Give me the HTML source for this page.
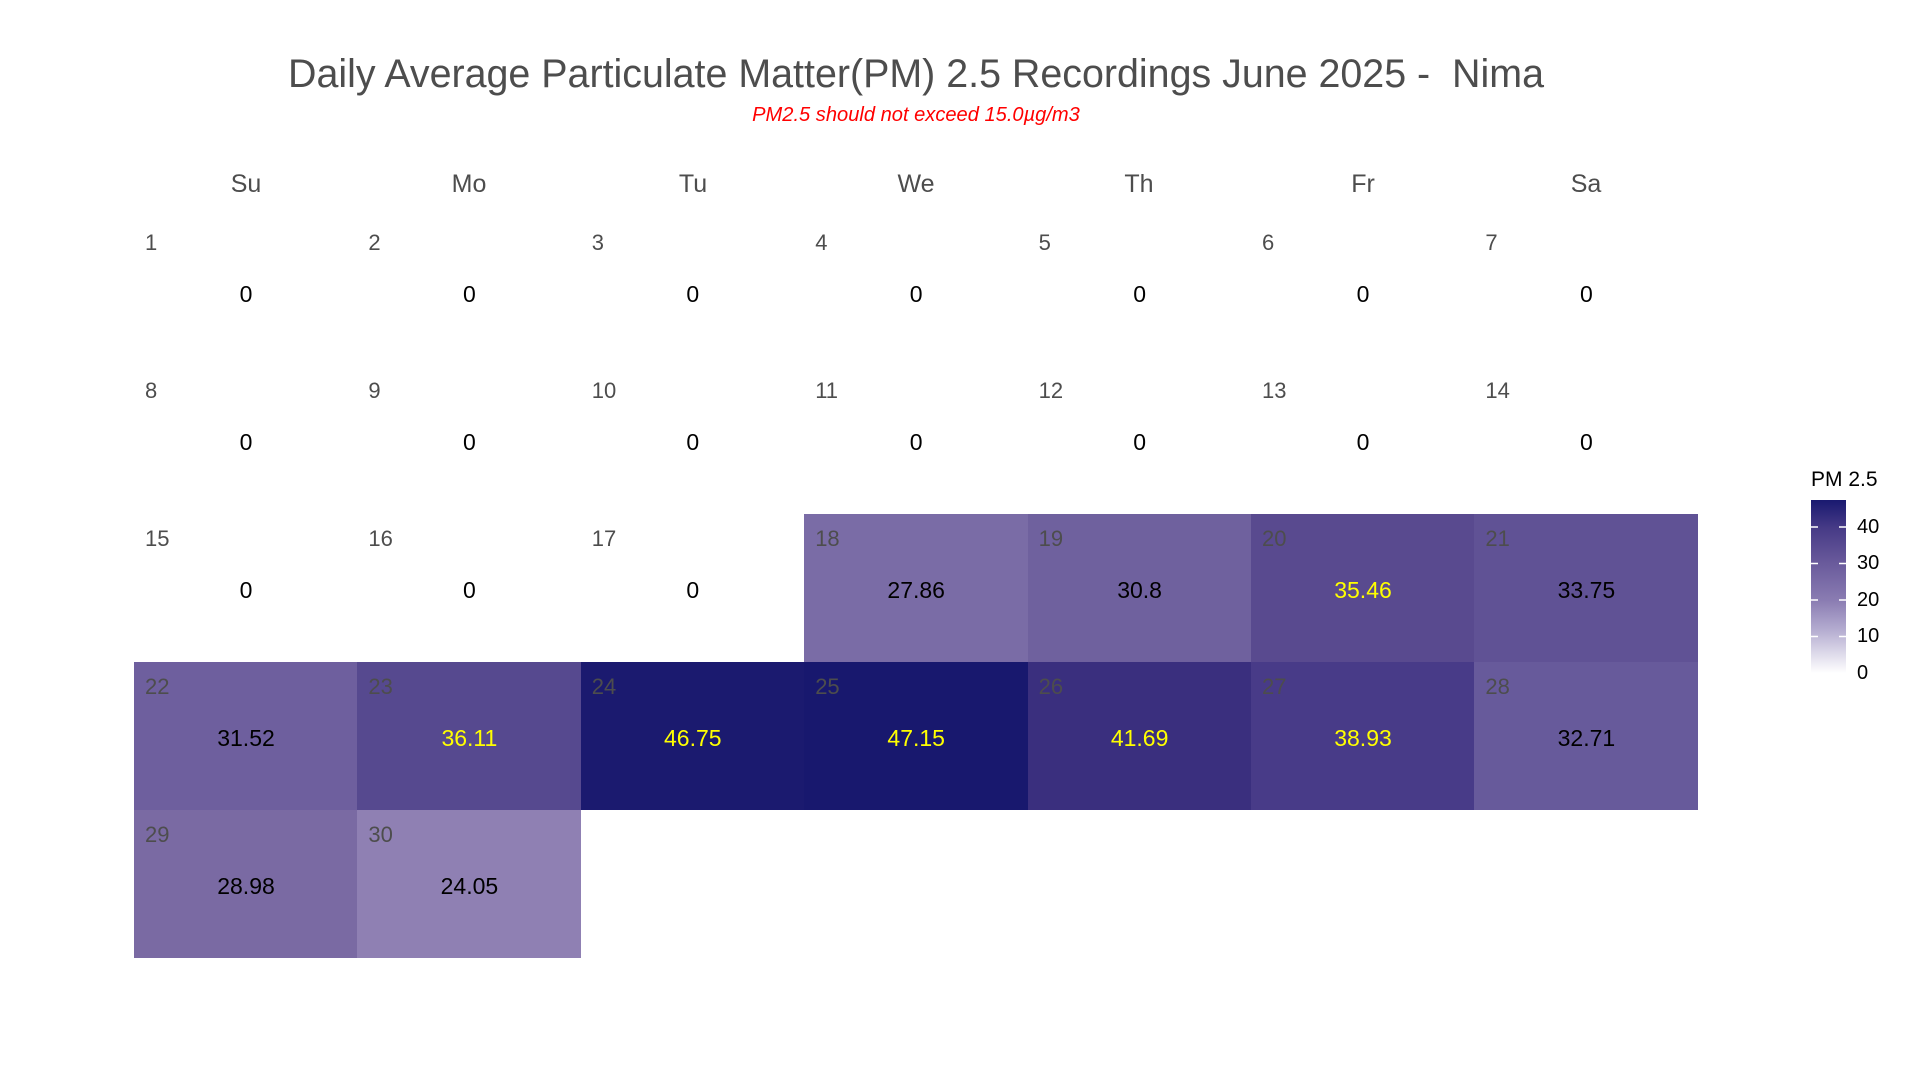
<!DOCTYPE html>
<html><head><meta charset="utf-8"><style>
body{margin:0;width:1920px;height:1066px;background:#fff;position:relative;overflow:hidden;font-family:"Liberation Sans",Arial,sans-serif}
.a{position:absolute;white-space:nowrap}
.t{left:0;width:1832px;text-align:center;top:51px;font-size:39.4px;color:#4d4d4d;line-height:46px}
.s{left:0;width:1832px;text-align:center;top:103px;font-size:20.1px;color:#ff0000;font-style:italic;line-height:24px}
.w{font-size:25px;color:#4d4d4d;width:224px;text-align:center;top:170px;line-height:28px}
.c{position:absolute;width:224px;height:148px}
.d{position:absolute;left:11px;top:12px;font-size:22px;line-height:26px;color:#4d4d4d}
.v{position:absolute;left:0;width:100%;text-align:center;top:62px;font-size:23px;line-height:28px;color:#000}
.y{color:#ffff00}
.lg{font-size:20px;color:#000}
</style></head><body>
<div class="a t">Daily Average Particulate Matter(PM) 2.5 Recordings June 2025 -&nbsp; Nima</div>
<div class="a s">PM2.5 should not exceed 15.0µg/m3</div>
<div class="a w" style="left:134px">Su</div>
<div class="a w" style="left:357px">Mo</div>
<div class="a w" style="left:581px">Tu</div>
<div class="a w" style="left:804px">We</div>
<div class="a w" style="left:1027px">Th</div>
<div class="a w" style="left:1251px">Fr</div>
<div class="a w" style="left:1474px">Sa</div>
<div id="g"></div>
<script>
var cols={18:'#7a6ca6',19:'#6f619e',20:'#594a8f',21:'#605295',22:'#6e5f9e',23:'#56498f',24:'#1b1a6f',25:'#18186e',26:'#3a2f7e',27:'#483b88',28:'#675a9b',29:'#7a6aa3',30:'#8f80b3'};
var vals={18:'27.86',19:'30.8',20:'35.46',21:'33.75',22:'31.52',23:'36.11',24:'46.75',25:'47.15',26:'41.69',27:'38.93',28:'32.71',29:'28.98',30:'24.05'};
var yel={20:1,23:1,24:1,25:1,26:1,27:1};
var h='';
for(var d=1;d<=30;d++){var i=d-1,c=i%7,r=Math.floor(i/7);
var x=134+c*223.4,y=218+r*148;
h+='<div class="c" style="left:'+x+'px;top:'+y+'px;width:224px;background:'+(cols[d]||'transparent')+'"><div class="d">'+d+'</div><div class="v'+(yel[d]?' y':'')+'">'+(vals[d]||'0')+'</div></div>';}
document.getElementById('g').innerHTML=h;
</script>
<div class="a" style="left:1811px;top:467px;font-size:21px;line-height:26px;color:#000">PM 2.5</div>
<div class="a" style="left:1811px;top:500px;width:35px;height:173px;background:linear-gradient(to top,#ffffff 0%,#b4acd0 25%,#8a7cb2 42%,#6a5b9c 63%,#463a86 84%,#191970 100%)"></div>
<svg class="a" style="left:1811px;top:500px" width="35" height="175">
<g stroke="#fff" stroke-width="1.5">
<line x1="0" x2="7" y1="27" y2="27"/><line x1="28" x2="35" y1="27" y2="27"/>
<line x1="0" x2="7" y1="63.5" y2="63.5"/><line x1="28" x2="35" y1="63.5" y2="63.5"/>
<line x1="0" x2="7" y1="100" y2="100"/><line x1="28" x2="35" y1="100" y2="100"/>
<line x1="0" x2="7" y1="136.5" y2="136.5"/><line x1="28" x2="35" y1="136.5" y2="136.5"/>
</g></svg>
<div class="a lg" style="left:1857px;top:516px">40</div>
<div class="a lg" style="left:1857px;top:552px">30</div>
<div class="a lg" style="left:1857px;top:589px">20</div>
<div class="a lg" style="left:1857px;top:625px">10</div>
<div class="a lg" style="left:1857px;top:662px">0</div>
</body></html>
